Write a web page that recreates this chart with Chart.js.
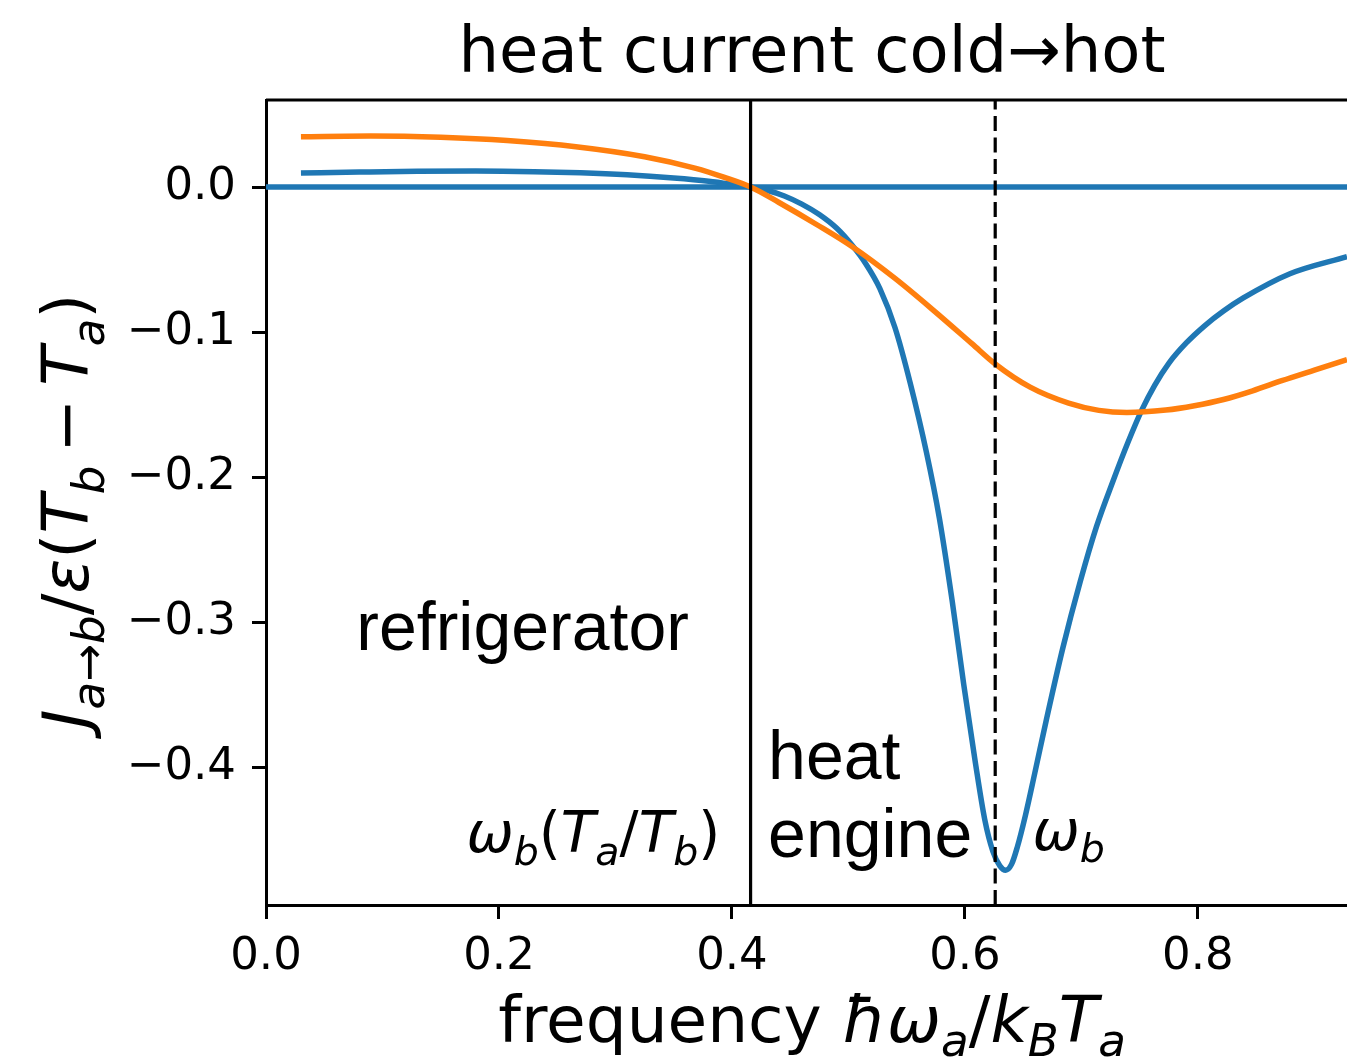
<!DOCTYPE html>
<html lang="en">
<head>
  <meta charset="UTF-8">
  <title>heat current cold→hot</title>
  <style>
    body {
      margin: 0;
      background: #fff;
    }

    #chart-container {
      width: 1347px;
      height: 1057px;
    }
  </style>
</head>
<body>

<div id="chart-container">
  <canvas id="heatChart" width="1347" height="1057"></canvas>
</div>

<script src="https://cdn.jsdelivr.net/npm/chart.js"></script>
<script>

  // frequency grid and current for the narrow-band coupling (blue)
  const freqBlue = [0.03, 0.08, 0.13, 0.18, 0.23, 0.27, 0.31, 0.35, 0.38, 0.40, 0.416,
    0.43, 0.445, 0.46, 0.475, 0.49, 0.503, 0.515, 0.527, 0.54, 0.553, 0.567, 0.578,
    0.589, 0.599, 0.609, 0.617, 0.624, 0.63, 0.635, 0.64, 0.645, 0.652, 0.66, 0.67,
    0.684, 0.699, 0.713, 0.727, 0.74, 0.752, 0.763, 0.775, 0.79, 0.806, 0.822, 0.839, 0.879, 0.928];
  const currentBlue = [0.0097, 0.0103, 0.0108, 0.011, 0.0106, 0.0098, 0.0084, 0.0062, 0.004, 0.0019, 0.0,
    -0.0022, -0.0062, -0.0118, -0.019, -0.0285, -0.04, -0.053, -0.07, -0.097, -0.135, -0.183, -0.228,
    -0.285, -0.343, -0.397, -0.436, -0.458, -0.468, -0.471, -0.467, -0.455, -0.433, -0.404, -0.367,
    -0.318, -0.272, -0.234, -0.203, -0.176, -0.1535, -0.1365, -0.1215, -0.1075, -0.0955, -0.0855,
    -0.0765, -0.0598, -0.048];

  // broad-band coupling (orange)
  const freqOrange = [0.03, 0.09, 0.15, 0.207, 0.266, 0.325, 0.369, 0.393, 0.416, 0.44, 0.473,
    0.503, 0.54, 0.573, 0.606, 0.626, 0.656, 0.689, 0.715, 0.739, 0.7725, 0.797, 0.822, 0.847,
    0.872, 0.9, 0.928];
  const currentOrange = [0.0347, 0.0352, 0.0343, 0.032, 0.0278, 0.0209, 0.0129, 0.0068, 0.0, -0.0105, -0.026,
    -0.041, -0.063, -0.085, -0.108, -0.122, -0.138, -0.149, -0.154, -0.1555, -0.1538, -0.1508, -0.1465,
    -0.1405, -0.1335, -0.1262, -0.119];

  // omega_b (T_a/T_b) and omega_b
  const boundaryFreq = [0.416, 0.626];

  const xLimits = [0, 0.928];
  const yLimits = [-0.495, 0.06];

  const xTickValues = [0, 0.2, 0.4, 0.6, 0.8];
  const xTickLabels = ['0.0', '0.2', '0.4', '0.6', '0.8'];
  const yTickValues = [-0.4, -0.3, -0.2, -0.1, 0];
  const yTickLabels = ['\u22120.4', '\u22120.3', '\u22120.2', '\u22120.1', '0.0'];

  const BLUE = '#1f77b4';
  const ORANGE = '#ff7f0e';
  const DV = '"DejaVu Sans"';
  const HV = '"Liberation Sans", Arial';

  function toPoints(xs, ys) {
    return xs.map((x, i) => ({ x: x, y: ys[i] }));
  }

  // draw a run of text pieces; style: '' upright, 'i' italic, 's' subscript, 'si' italic subscript
  function richText(ctx, parts, x, y, size, align, family, drop) {
    const fontOf = st => {
      const sz = st.includes('s') ? size * 0.7 : size;
      return (st.includes('i') ? 'italic ' : '') + sz + 'px ' + family;
    };
    const widths = parts.map(p => { ctx.font = fontOf(p[1]); return ctx.measureText(p[0]).width; });
    const total = widths.reduce((a, b) => a + b, 0);
    let cx = align === 'center' ? x - total / 2 : align === 'right' ? x - total : x;
    ctx.textAlign = 'left';
    ctx.textBaseline = 'alphabetic';
    parts.forEach((p, i) => {
      ctx.font = fontOf(p[1]);
      const dy = p[1].includes('s') ? size * drop : 0;
      ctx.fillText(p[0], cx, y + dy);
      cx += widths[i];
    });
  }

  const decorations = {
    id: 'decorations',
    afterDraw(chart) {
      const ctx = chart.ctx;
      const area = chart.chartArea;
      const xs = chart.scales.x;
      const ys = chart.scales.y;
      ctx.save();
      ctx.fillStyle = '#000';

      // top spine
      ctx.strokeStyle = '#000';
      ctx.lineWidth = 3;
      ctx.beginPath();
      ctx.moveTo(area.left, area.top);
      ctx.lineTo(area.right, area.top);
      ctx.stroke();

      // title
      ctx.font = '64px ' + DV;
      ctx.textAlign = 'center';
      ctx.textBaseline = 'alphabetic';
      ctx.fillText('heat current cold\u2192hot', 812, 72);

      // x axis label
      richText(ctx, [['frequency ', ''], ['\u0127\u03c9', 'i'], ['a', 'si'], ['/', ''],
        ['k', 'i'], ['B', 'si'], ['T', 'i'], ['a', 'si']], 812, 1042, 64.5, 'center', DV, 0.22);

      // y axis label
      ctx.save();
      ctx.translate(88, 511);
      ctx.rotate(-Math.PI / 2);
      richText(ctx, [['J', 'i'], ['a', 'si'], ['\u2192', 's'], ['b', 'si'], ['/', ''], ['\u03b5', 'i'],
        ['(', ''], ['T', 'i'], ['b', 'si'], ['\u2009\u2212\u2009', ''], ['T', 'i'], ['a', 'si'], [')', '']],
        0, 0, 64.5, 'center', DV, 0.25);
      ctx.restore();

      // region annotations
      ctx.font = '68px ' + HV;
      ctx.textAlign = 'left';
      ctx.fillText('refrigerator', xs.getPixelForValue(0.0775), ys.getPixelForValue(-0.3193));
      ctx.fillText('heat', xs.getPixelForValue(0.431), ys.getPixelForValue(-0.408));
      ctx.fillText('engine', xs.getPixelForValue(0.431), ys.getPixelForValue(-0.462));

      richText(ctx, [['\u03c9', 'i'], ['b', 'si'], ['(', ''], ['T', 'i'], ['a', 'si'], ['/', ''],
        ['T', 'i'], ['b', 'si'], [')', '']],
        xs.getPixelForValue(0.390), ys.getPixelForValue(-0.4586), 56.5, 'right', DV, 0.22);
      richText(ctx, [['\u03c9', 'i'], ['b', 'si']],
        xs.getPixelForValue(0.658), ys.getPixelForValue(-0.457), 56.5, 'left', DV, 0.22);

      ctx.restore();
    }
  };

  const curveStyle = {
    pointRadius: 0,
    borderWidth: 5.5,
    fill: false,
    cubicInterpolationMode: 'monotone'
  };

  const data = {
    datasets: [
      Object.assign({ data: toPoints(xLimits, [0, 0]), borderColor: BLUE, order: 5 }, curveStyle),
      Object.assign({ data: toPoints(freqBlue, currentBlue), borderColor: BLUE, order: 4 }, curveStyle),
      Object.assign({ data: toPoints(freqOrange, currentOrange), borderColor: ORANGE, order: 3 }, curveStyle),
      {
        data: toPoints([boundaryFreq[0], boundaryFreq[0]], yLimits),
        borderColor: '#000', borderWidth: 3.2, pointRadius: 0, order: 2
      },
      {
        data: toPoints([boundaryFreq[1], boundaryFreq[1]], yLimits),
        borderColor: '#000', borderWidth: 3.2, borderDash: [15, 6.5], pointRadius: 0, order: 1
      }
    ]
  };

  const axisCommon = {
    type: 'linear',
    grid: {
      drawOnChartArea: false,
      drawTicks: true,
      tickLength: 14,
      color: '#000',
      tickColor: '#000',
      lineWidth: 3,
      tickWidth: 3
    },
    border: { display: true, color: '#000', width: 3 }
  };

  const config = {
    type: 'line',
    data: data,
    options: {
      responsive: false,
      animation: false,
      events: [],
      layout: { padding: { top: 100, right: 0, left: 0, bottom: 0 } },
      plugins: {
        legend: { display: false },
        tooltip: { enabled: false },
        title: { display: false }
      },
      scales: {
        x: Object.assign({}, axisCommon, {
          min: xLimits[0],
          max: xLimits[1],
          afterBuildTicks: s => { s.ticks = xTickValues.map(v => ({ value: v })); },
          afterFit: s => { s.height = 152; },
          ticks: {
            padding: 11,
            color: '#000',
            font: { family: 'DejaVu Sans', size: 45 },
            maxRotation: 0,
            callback: (v, i) => xTickLabels[i]
          }
        }),
        y: Object.assign({}, axisCommon, {
          min: yLimits[0],
          max: yLimits[1],
          afterBuildTicks: s => { s.ticks = yTickValues.map(v => ({ value: v })); },
          afterFit: s => { s.width = 266; },
          ticks: {
            padding: 16,
            color: '#000',
            font: { family: 'DejaVu Sans', size: 45 },
            callback: (v, i) => yTickLabels[i]
          }
        })
      }
    },
    plugins: [decorations]
  };

  const ctx = document.getElementById('heatChart').getContext('2d');
  const heatChart = new Chart(ctx, config);
</script>

</body>
</html>
